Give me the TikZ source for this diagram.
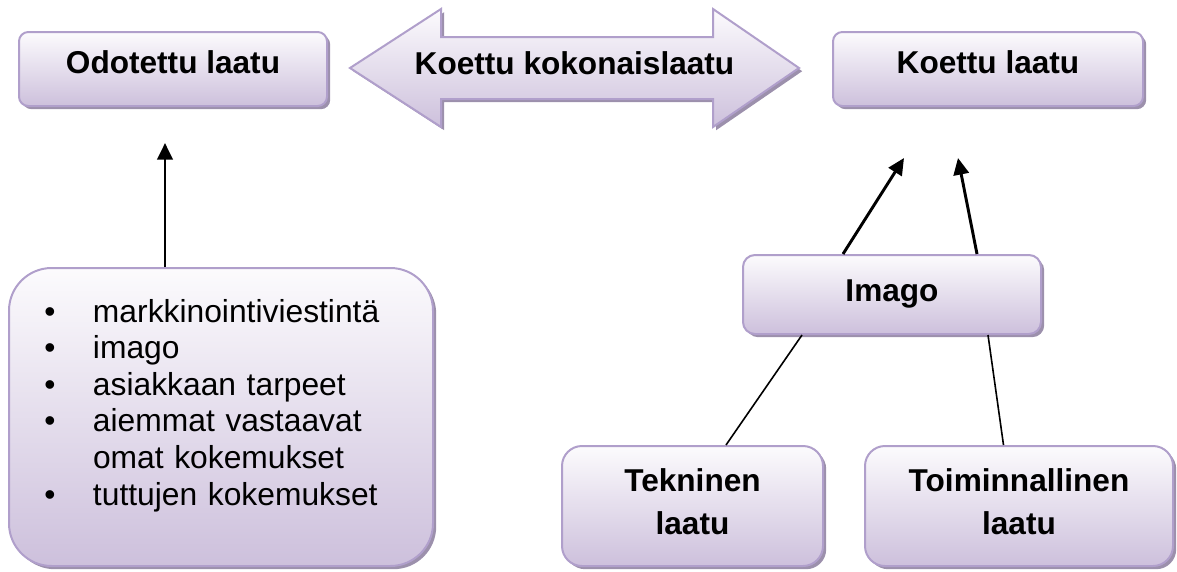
\documentclass[tikz,border=0pt]{standalone}
\usepackage{fontspec}
\setmainfont{Liberation Sans}
\usetikzlibrary{shadows,arrows.meta,calc}
\definecolor{bordc}{RGB}{176,159,203}
\definecolor{filltop}{RGB}{252,251,253}
\definecolor{fillbot}{RGB}{205,192,220}
\definecolor{shadc}{RGB}{156,144,172}
\newcommand\boxfont{\fontsize{23.7pt}{32.25pt}\selectfont\bfseries}
\newcommand\listfont{\fontsize{23.85pt}{27.45pt}\selectfont}
\newcommand\listbul{\makebox[36.4pt][l]{•}}
\begin{document}
\begin{tikzpicture}[x=0.75pt,y=-0.75pt,
  lavender/.style={draw=bordc, line width=1.5pt, top color=filltop, bottom color=fillbot,
    drop shadow={shadow xshift=2.4pt, shadow yshift=-2.4pt, fill=shadc, opacity=1}},
  box/.style={lavender, inner sep=0pt, font=\boxfont, align=center},
  conn/.style={line width=2.2pt, -{Triangle[length=12.5pt,width=11.5pt]}},
  link/.style={line width=1.2pt}]
\useasboundingbox (0,0) rectangle (1177,571);

% top row
\node[box, rounded corners=7pt, minimum width=231pt, minimum height=55.5pt, text depth=9.75pt] (odot) at (173,69) {Odotettu laatu};
\node[box, rounded corners=7pt, minimum width=232.5pt, minimum height=55.5pt, text depth=9.75pt] (koettu) at (988,69) {Koettu laatu};

% double arrow
\path[lavender] (350,68) -- (441,9) -- (441,37) -- (713,37) -- (713,9) -- (799,68)
  -- (713,127) -- (713,99) -- (441,99) -- (441,127) -- cycle;
\node[font=\boxfont, inner sep=0pt, text depth=6.75pt] (kok) at (574.5,68) {Koettu kokonaislaatu};

% right side
\node[box, rounded corners=9pt, minimum width=223.5pt, minimum height=59.25pt, text depth=6pt] (imago) at (892,294.5) {Imago};
\node[box, rounded corners=15pt, minimum width=195.75pt, minimum height=90pt] (tek) at (692.5,506) {Tekninen\\laatu\rule[-6pt]{0pt}{0pt}};
\node[box, rounded corners=15pt, minimum width=231pt, minimum height=90pt] (toim) at (1019,506) {Toiminnallinen\\laatu\rule[-6pt]{0pt}{0pt}};

% list box
\node[box, rounded corners=32pt, minimum width=318pt, minimum height=223.5pt, text width=264.8pt, align=left, font=\listfont] (list) at (221,417) {%
\listbul markkinointiviestintä\\
\listbul imago\\
\listbul asiakkaan tarpeet\\
\listbul aiemmat vastaavat\\
\hspace*{36.4pt}omat kokemukset\\
\listbul tuttujen kokemukset\rule[-22.5pt]{0pt}{0pt}};

% connectors
\coordinate (t0) at (165,143);
\coordinate (t1) at (904,158);
\coordinate (t2) at (958,158);
\draw[conn] ($(list.north)+(-56,0)$) -- (t0);
\draw[conn] ($(imago.north)+(-49,0)$) -- (t1);
\draw[conn] ($(imago.north)+(85,0)$) -- (t2);
\draw[link] ($(imago.south)+(-90,0)$) -- ($(tek.north)+(33.5,0)$);
\draw[link] ($(imago.south)+(96,0)$) -- ($(toim.north)+(-15.5,0)$);
\end{tikzpicture}
\end{document}
